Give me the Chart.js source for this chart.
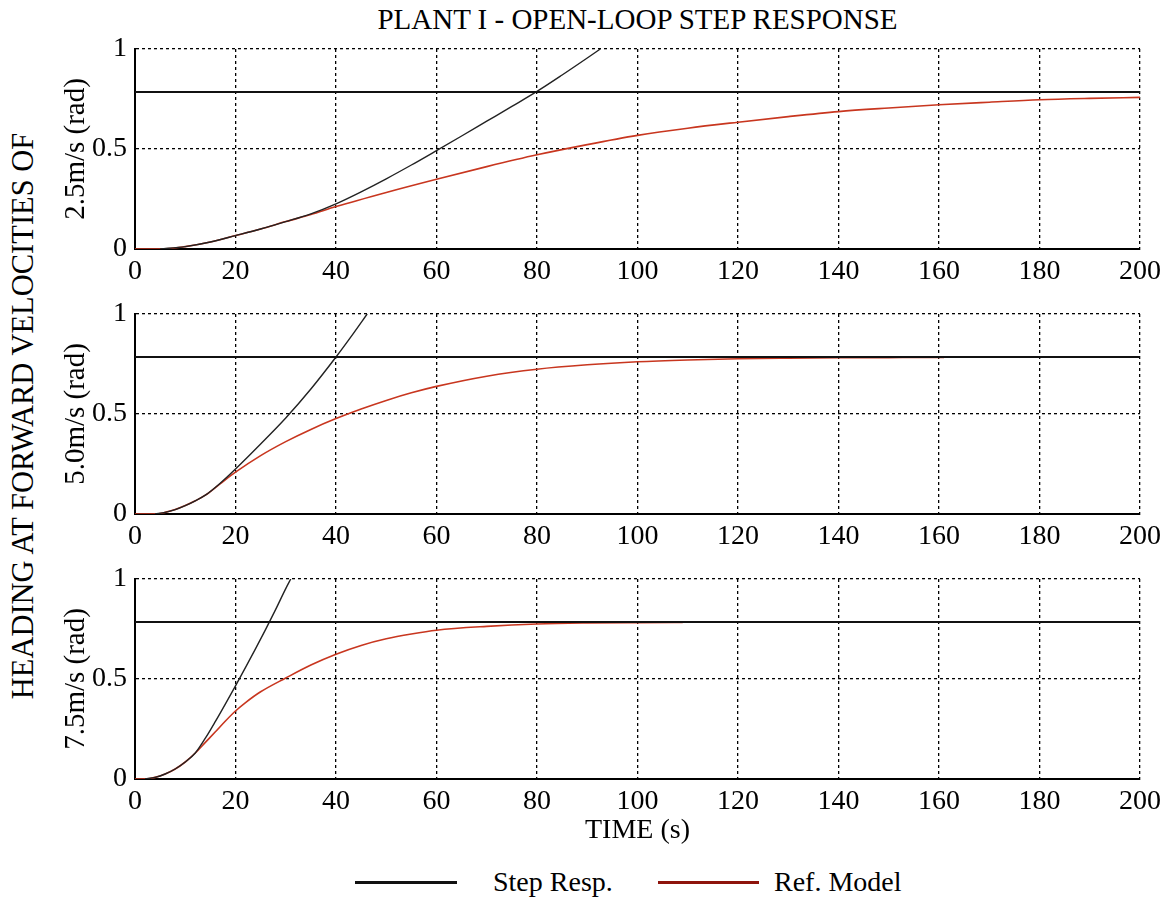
<!DOCTYPE html>
<html>
<head>
<meta charset="utf-8">
<script src="https://cdn.jsdelivr.net/npm/chart.js@4.4.1/dist/chart.umd.min.js"></script>
<style>
  body { margin: 0; background: #fff; }
  #page { position: relative; width: 1175px; height: 903px; overflow: hidden; background: #fff;
          font-family: "Liberation Serif", serif; color: #000; }
  .plot { position: absolute; left: 0; }
  #title { position: absolute; top: 2px; left: 135px; width: 1005px; text-align: center; font-size: 29px; line-height: 34px; white-space: nowrap; }
  #sideLabel { position: absolute; left: 23px; top: 416px; transform: translate(-50%, -50%) rotate(-90deg);
               white-space: nowrap; font-size: 30.5px; line-height: 34px; }
  .legLine { position: absolute; height: 3px; top: 881px; }
  .legText { position: absolute; top: 866px; font-size: 28px; line-height: 32px; white-space: nowrap; }
</style>
</head>
<body>
<div id="page">
  <div id="title">PLANT I - OPEN-LOOP STEP RESPONSE</div>
  <div id="sideLabel">HEADING AT FORWARD VELOCITIES OF</div>

  <canvas id="plot25" class="plot" width="1175" height="270" style="top:20px"></canvas>
  <canvas id="plot50" class="plot" width="1175" height="270" style="top:285px"></canvas>
  <canvas id="plot75" class="plot" width="1175" height="310" style="top:550px"></canvas>

  <div class="legLine" style="left:355px; width:102px; background:#111;"></div>
  <div class="legText" style="left:493px;">Step Resp.</div>
  <div class="legLine" style="left:658px; width:101px; background:#8e140c;"></div>
  <div class="legText" style="left:774px;">Ref. Model</div>
</div>

<script>
// desired heading (rad)
const targetHeading = 0.785;

// 2.5 m/s
const stepT25 = [5, 10, 15, 20, 25, 30, 35, 40, 45, 50, 55, 60, 65, 70, 75, 80, 85, 90, 92.6];
const stepY25 = [0, 0.012, 0.035, 0.067, 0.1, 0.137, 0.176, 0.226, 0.286, 0.351, 0.42, 0.492, 0.565, 0.639, 0.713, 0.788, 0.87, 0.955, 1.0];
const refT25 = [0, 5, 10, 15, 20, 25, 30, 35, 40, 50, 60, 70, 80, 90, 100, 110, 120, 130, 140, 150, 160, 170, 180, 190, 200];
const refY25 = [0, 0, 0.012, 0.035, 0.067, 0.1, 0.137, 0.172, 0.212, 0.283, 0.349, 0.412, 0.471, 0.522, 0.568, 0.604, 0.634, 0.662, 0.687, 0.705, 0.721, 0.734, 0.746, 0.753, 0.758];

// 5.0 m/s
const stepT50 = [4, 6, 8, 10, 12, 14, 17, 20, 25, 30, 35, 40, 43, 46.2];
const stepY50 = [0, 0.008, 0.022, 0.042, 0.066, 0.094, 0.155, 0.225, 0.35, 0.48, 0.625, 0.785, 0.887, 1.0];
const refT50 = [0, 4, 6, 8, 10, 12, 14, 17, 20, 25, 30, 35, 40, 45, 50, 55, 60, 70, 80, 90, 100, 110, 120, 130, 140, 150, 161];
const refY50 = [0, 0, 0.008, 0.022, 0.042, 0.066, 0.094, 0.152, 0.209, 0.292, 0.362, 0.423, 0.477, 0.525, 0.568, 0.606, 0.638, 0.689, 0.724, 0.746, 0.761, 0.77, 0.776, 0.779, 0.781, 0.782, 0.783];

// 7.5 m/s
const stepT75 = [2, 4, 6, 8, 10, 12, 14, 16, 18, 20, 22, 24, 26, 28, 30, 31];
const stepY75 = [0, 0.008, 0.025, 0.05, 0.085, 0.13, 0.204, 0.288, 0.376, 0.466, 0.558, 0.652, 0.748, 0.848, 0.952, 1.0];
const refT75 = [0, 2, 4, 6, 8, 10, 12, 14, 16, 18, 20, 22, 25, 30, 35, 40, 45, 50, 55, 60, 70, 80, 90, 100, 109];
const refY75 = [0, 0, 0.008, 0.025, 0.05, 0.085, 0.13, 0.183, 0.236, 0.29, 0.34, 0.382, 0.436, 0.505, 0.57, 0.624, 0.668, 0.701, 0.725, 0.744, 0.763, 0.775, 0.78, 0.782, 0.783];

const xTickStep = 20;
const yTickStep = 0.5;

const toPoints = (xs, ys) => xs.map((x, i) => ({ x: x, y: ys[i] }));
const serif = { family: '"Liberation Serif", serif', size: 28 };
const serifTitle = { family: '"Liberation Serif", serif', size: 29 };

function makePlot(id, yLabel, stepT, stepY, refT, refY, showTime) {
    const ctx = document.getElementById(id);
    const xHeight = showTime ? 81 : 41;

    new Chart(ctx, {
        type: 'line',
        data: {
            datasets: [
                {
                    data: [{ x: 0, y: targetHeading }, { x: 200, y: targetHeading }],
                    borderColor: '#111',
                    borderWidth: 2
                },
                {
                    data: toPoints(stepT, stepY),
                    borderColor: '#222',
                    borderWidth: 1.4,
                    cubicInterpolationMode: 'monotone'
                },
                {
                    data: toPoints(refT, refY),
                    borderColor: '#c8361f',
                    borderWidth: 1.6,
                    cubicInterpolationMode: 'monotone'
                }
            ]
        },
        options: {
            responsive: false,
            animation: false,
            parsing: false,
            elements: { point: { radius: 0 } },
            layout: { padding: { left: 0, right: 35, top: 29, bottom: 0 } },
            plugins: { legend: { display: false }, tooltip: { enabled: false } },
            scales: {
                x: {
                    type: 'linear',
                    min: 0,
                    max: 200,
                    ticks: { stepSize: xTickStep, color: '#000', font: serif, padding: 6, maxRotation: 0 },
                    grid: { color: '#000', lineWidth: 1.3, drawTicks: false },
                    border: { display: true, color: '#000', width: 2, dash: [3, 3] },
                    title: {
                        display: showTime,
                        text: 'TIME (s)',
                        color: '#000',
                        font: serif,
                        padding: { top: 0, bottom: 13 }
                    },
                    afterFit: s => { s.height = xHeight; s.paddingLeft = 0; s.paddingRight = 0; }
                },
                y: {
                    min: 0,
                    max: 1,
                    ticks: { stepSize: yTickStep, color: '#000', font: serif, padding: 8, callback: v => String(v) },
                    grid: { color: '#000', lineWidth: 1.3, drawTicks: false },
                    border: { display: true, color: '#000', width: 2, dash: [3, 3] },
                    title: {
                        display: true,
                        text: yLabel,
                        color: '#000',
                        font: serifTitle,
                        padding: { top: 59, bottom: 0 }
                    },
                    afterFit: s => { s.width = 135; s.paddingTop = 0; s.paddingBottom = 0; }
                }
            }
        }
    });
}

makePlot('plot25', '2.5m/s (rad)', stepT25, stepY25, refT25, refY25, false);
makePlot('plot50', '5.0m/s (rad)', stepT50, stepY50, refT50, refY50, false);
makePlot('plot75', '7.5m/s (rad)', stepT75, stepY75, refT75, refY75, true);
</script>
</body>
</html>
